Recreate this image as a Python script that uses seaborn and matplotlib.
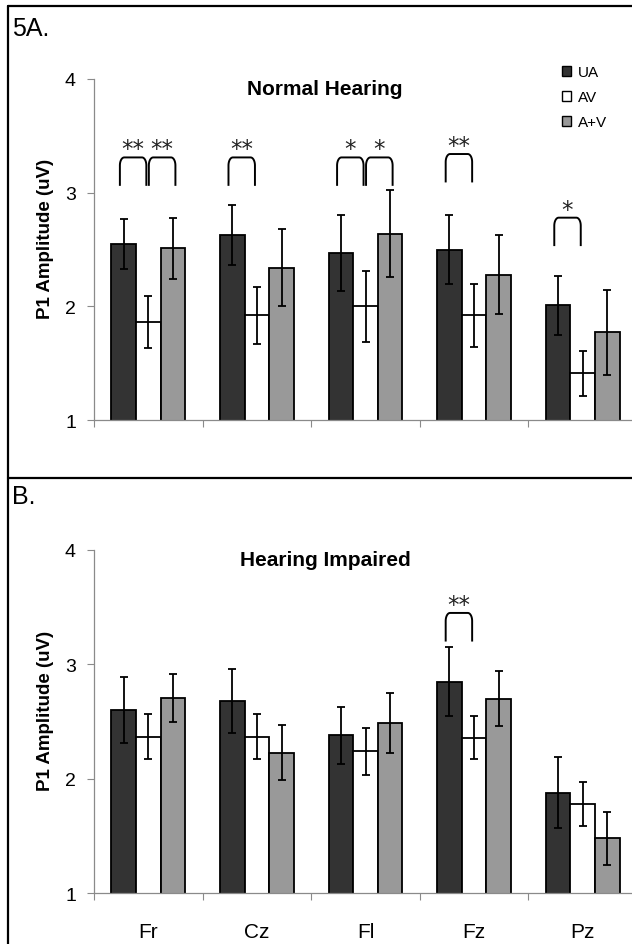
import numpy as np
import pandas as pd
import matplotlib
matplotlib.use("Agg")
import matplotlib.pyplot as plt
import seaborn as sns
from matplotlib.lines import Line2D
from matplotlib.patches import Patch

# ---- data ---------------------------------------------------------------
electrodes = ["Fr", "Cz", "Fl", "Fz", "Pz"]
conditions = ["UA", "AV", "A+V"]
cond_colors = ["#333333", "#ffffff", "#999999"]

# Normal hearing group: mean P1 amplitude and error
nh_ua = [2.55, 2.63, 2.47, 2.50, 2.01]
nh_av = [1.86, 1.92, 2.00, 1.92, 1.41]
nh_apv = [2.51, 2.34, 2.64, 2.28, 1.77]
nh_ua_err = [0.22, 0.265, 0.335, 0.30, 0.26]
nh_av_err = [0.23, 0.25, 0.31, 0.28, 0.20]
nh_apv_err = [0.27, 0.34, 0.385, 0.345, 0.37]

# Hearing impaired group
hi_ua = [2.60, 2.68, 2.38, 2.85, 1.88]
hi_av = [2.37, 2.37, 2.24, 2.36, 1.78]
hi_apv = [2.71, 2.23, 2.49, 2.70, 1.48]
hi_ua_err = [0.29, 0.28, 0.25, 0.30, 0.31]
hi_av_err = [0.195, 0.20, 0.205, 0.19, 0.195]
hi_apv_err = [0.21, 0.24, 0.26, 0.24, 0.23]

# significance brackets: (electrode, left condition, right condition, stars)
nh_sig = [(0, 0, 1, "**"), (0, 1, 2, "**"), (1, 0, 1, "**"),
          (2, 0, 1, "*"), (2, 1, 2, "*"), (3, 0, 1, "**"), (4, 0, 1, "*")]
nh_sig_base = [3.06, 3.06, 3.06, 3.06, 3.06, 3.09, 2.53]
hi_sig = [(3, 0, 1, "**")]
hi_sig_base = [3.20]

# ---- style --------------------------------------------------------------
sns.set_style("white")
plt.rcParams["font.family"] = ["Liberation Sans", "DejaVu Sans"]
plt.rcParams["text.color"] = "black"
plt.rcParams["axes.labelcolor"] = "black"

W, H = 632, 945
fig = plt.figure(figsize=(W / 100, H / 100), dpi=100)

AX_L, AX_W = 94, 543
ax_top = fig.add_axes([AX_L / W, 1 - 421 / H, AX_W / W, 341 / H])
ax_bot = fig.add_axes([AX_L / W, 1 - 894.3 / H, AX_W / W, 343.3 / H])

AXIS_GRAY = "#8a8a8a"


def draw_panel(ax, means, errs, sig, sig_base, title, show_labels):
    df = pd.DataFrame({
        "electrode": np.tile(electrodes, len(conditions)),
        "condition": np.repeat(conditions, len(electrodes)),
        "amp": np.concatenate(means),
    })
    sns.barplot(data=df, x="electrode", y="amp", hue="condition",
                order=electrodes, hue_order=conditions, palette=cond_colors,
                saturation=1, errorbar=None, width=0.68, gap=0,
                edgecolor="black", linewidth=1.3, legend=False, ax=ax)

    bar_groups = list(ax.containers)
    centers = []
    for j, cont in enumerate(bar_groups):
        xs = [p.get_x() + p.get_width() / 2 for p in cont]
        centers.append(xs)
        ax.errorbar(xs, means[j], yerr=errs[j], fmt="none", ecolor="black",
                    elinewidth=1.3, capsize=2.6, capthick=1.3, zorder=5)

    # significance brackets with rounded shoulders
    rx, ry, hgt = 0.04, 0.07, 0.25
    for (e, a, b, stars), base in zip(sig, sig_base):
        if a == 0:
            x0, x1 = centers[a][e] - 0.035, centers[b][e] - 0.018
        else:
            x0, x1 = centers[a][e] + 0.005, centers[b][e] + 0.023
        top = base + hgt
        t = np.linspace(0, np.pi / 2, 12)
        left_arc_x = x0 + rx - rx * np.cos(t)
        left_arc_y = top - ry + ry * np.sin(t)
        right_arc_x = x1 - rx + rx * np.sin(t)
        right_arc_y = top - ry + ry * np.cos(t)
        xs = np.concatenate([[x0], left_arc_x, right_arc_x, [x1]])
        ys = np.concatenate([[base], left_arc_y, right_arc_y, [base]])
        ax.plot(xs, ys, color="black", lw=1.4, solid_capstyle="butt", zorder=6)
        ax.text((x0 + x1) / 2, top - 0.025, stars,
                ha="center", va="bottom", fontsize=16.5, family="DejaVu Sans",
                color="#222222")

    ax.set_xlim(-0.5, 4.5)
    ax.set_ylim(1, 4)
    ax.set_yticks([1, 2, 3, 4])
    ax.set_xticks(np.arange(-0.5, 5.0, 1.0))
    ax.set_xticklabels([])
    ax.set_xticks(range(len(electrodes)), minor=True)
    if show_labels:
        ax.set_xticklabels(electrodes, minor=True, fontsize=15)
    else:
        ax.set_xticklabels([], minor=True)
    ax.tick_params(axis="x", which="major", direction="out", length=5,
                   width=0.8, color=AXIS_GRAY, bottom=True)
    ax.tick_params(axis="x", which="minor", length=0, pad=21,
                   labelcolor="black")
    ax.tick_params(axis="y", direction="out", length=5, width=0.8,
                   color=AXIS_GRAY, left=True, labelsize=14, pad=8,
                   labelcolor="black")
    sns.despine(ax=ax, top=True, right=True)
    for s in ("left", "bottom"):
        ax.spines[s].set_color(AXIS_GRAY)
        ax.spines[s].set_linewidth(0.9)
    ax.set_xlabel("")
    ax.set_ylabel("P1 Amplitude (uV)", fontsize=13.5, fontweight="bold")
    ax.yaxis.set_label_coords(-0.074, 0.534)
    ax.text((325 - AX_L) / AX_W, 0.972, title, transform=ax.transAxes,
            ha="center", va="center", fontsize=15, fontweight="bold")
    ax.patch.set_alpha(0)


draw_panel(ax_top, [nh_ua, nh_av, nh_apv], [nh_ua_err, nh_av_err, nh_apv_err],
           nh_sig, nh_sig_base, "Normal Hearing", False)
draw_panel(ax_bot, [hi_ua, hi_av, hi_apv], [hi_ua_err, hi_av_err, hi_apv_err],
           hi_sig, hi_sig_base, "Hearing Impaired", True)

# legend
handles = [Patch(facecolor=c, edgecolor="black", linewidth=1.0) for c in cond_colors]
fig.legend(handles, conditions, loc="upper left",
           bbox_to_anchor=(562 / W, 1 - 66 / H), frameon=False, fontsize=11,
           handlelength=0.62, handleheight=0.62, handletextpad=0.4,
           labelspacing=0.72, borderpad=0, borderaxespad=0)


# panel frame lines and letters
def fx(px):
    return px / W


def fy(py):
    return 1 - py / H


frame_kw = dict(color="black", lw=1.6, transform=fig.transFigure)
fig.add_artist(Line2D([fx(8), 1.0], [fy(7), fy(7)], **frame_kw))
fig.add_artist(Line2D([fx(8), fx(8)], [fy(7), 0.0], **frame_kw))
fig.add_artist(Line2D([fx(8), 1.0], [fy(479), fy(479)], **frame_kw))

fig.text(fx(12), fy(29), "5A.", fontsize=18, ha="left", va="center")
fig.text(fx(12), fy(497), "B.", fontsize=18, ha="left", va="center")

fig.savefig("out.png", dpi=100, facecolor="white")
